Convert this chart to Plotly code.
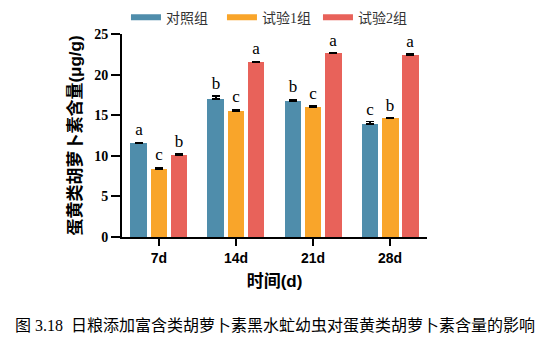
import plotly.graph_objects as go

categories = ["7d", "14d", "21d", "28d"]
series_names = ["对照组", "试验1组", "试验2组"]
control = [11.55, 17.0, 16.75, 13.9]
trial1 = [8.35, 15.5, 16.0, 14.62]
trial2 = [10.07, 21.55, 22.65, 22.4]
control_err = [0.1, 0.35, 0.2, 0.3]
trial1_err = [0.2, 0.2, 0.15, 0.05]
trial2_err = [0.2, 0.08, 0.05, 0.15]
control_sig = ["a", "b", "b", "c"]
trial1_sig = ["c", "c", "c", "b"]
trial2_sig = ["b", "a", "a", "a"]
yticks = [0, 5, 10, 15, 20, 25]

colors = ["#4F8DAB", "#F9A52A", "#E8625A"]
values = [control, trial1, trial2]
errs = [control_err, trial1_err, trial2_err]
sigs = [control_sig, trial1_sig, trial2_sig]
offsets = [-0.26, 0.0, 0.26]
bar_w = 0.22

fig = go.Figure()
for j in range(3):
    xs = [i + offsets[j] for i in range(len(categories))]
    fig.add_trace(go.Bar(
        x=xs, y=values[j], width=bar_w, marker=dict(color=colors[j], line=dict(width=0)),
        error_y=dict(type="data", array=errs[j], arrayminus=[0] * 4, symmetric=False,
                     color="black", thickness=1.5, width=4),
        showlegend=False, name=series_names[j]))
    fig.add_trace(go.Scatter(
        x=xs, y=[v + e + 0.35 for v, e in zip(values[j], errs[j])], mode="text",
        text=sigs[j], textposition="top center",
        textfont=dict(family="Liberation Serif", size=17, color="black"),
        showlegend=False, hoverinfo="skip"))

for j in range(3):
    fig.add_trace(go.Scatter(
        x=[None], y=[None], mode="lines", name=series_names[j],
        line=dict(color=colors[j], width=6), showlegend=True))

fig.update_layout(
    width=551, height=349,
    margin=dict(l=122, r=124, t=34, b=112, autoexpand=False),
    plot_bgcolor="white", paper_bgcolor="white",
    bargap=0,
    legend=dict(orientation="h", x=0.013, y=1.08, xanchor="left", yanchor="middle",
                font=dict(family="Liberation Serif, Noto Sans CJK SC", size=14, color="#333"),
                itemwidth=30, entrywidth=51, entrywidthmode="pixels",
                tracegroupgap=0, bgcolor="rgba(0,0,0,0)"),
    xaxis=dict(range=[-0.48, 3.48], tickvals=list(range(len(categories))), ticktext=categories,
               showline=True, linecolor="black", linewidth=2, ticks="outside", ticklen=7,
               tickwidth=2, tickcolor="black", showgrid=False, zeroline=False,
               tickfont=dict(family="Liberation Sans, Arial", size=14, color="black", weight="bold"),
               title=dict(text="时间(d)", font=dict(family="Liberation Sans, Noto Sans CJK SC", size=17,
                                                   color="black", weight="bold"), standoff=10)),
    yaxis=dict(range=[0, 25], tickvals=yticks, showline=True, linecolor="black", linewidth=2,
               ticks="outside", ticklen=9, tickwidth=2, tickcolor="black", showgrid=False,
               zeroline=False,
               tickfont=dict(family="Liberation Serif", size=14, color="black", weight="bold"),
               title=dict(text="蛋黄类胡萝卜素含量(μg/g)",
                          font=dict(family="Liberation Sans, Noto Sans CJK SC", size=17,
                                    color="black", weight="bold"), standoff=8)),
)

fig.add_annotation(
    text="图 3.18  日粮添加富含类胡萝卜素黑水虻幼虫对蛋黄类胡萝卜素含量的影响",
    xref="paper", yref="paper", x=0.5, y=-0.435, xanchor="center", yanchor="middle",
    showarrow=False, font=dict(family="Liberation Serif, Noto Sans CJK SC", size=16, color="black"))

fig.write_html("out.html")
